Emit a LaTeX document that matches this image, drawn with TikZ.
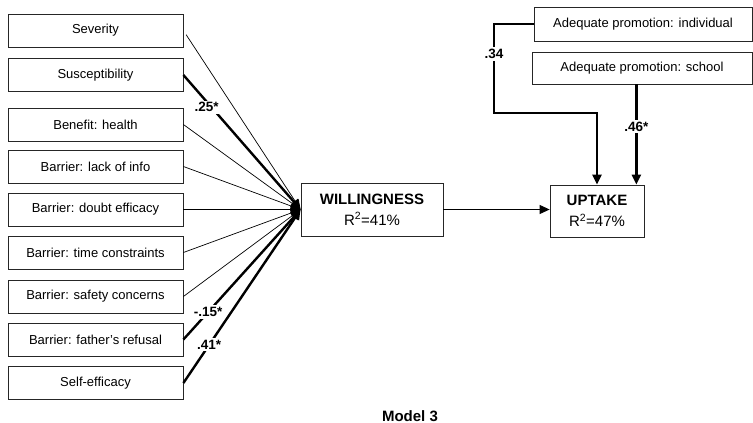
\documentclass[tikz,border=0pt]{standalone}
\usepackage{fontspec}
\setmainfont{Liberation Sans}
\usetikzlibrary{arrows.meta,calc}
\begin{document}
\begin{tikzpicture}[x=1pt,y=-1pt,
 box/.style={draw=black!85, line width=0.8pt, minimum width=175pt, minimum height=33pt, inner sep=0pt, font=\fontsize{13}{15}\selectfont},
 bigbox/.style={draw=black!85, line width=0.8pt, inner sep=0pt, align=center, font=\fontsize{15}{17}\selectfont},
 thinarr/.style={line width=0.7pt, -{Triangle[length=10pt,width=8pt]}},
 thickarr/.style={line width=2.4pt, -{Triangle[length=10pt,width=9pt]}},
 midarr/.style={line width=1pt, -{Triangle[length=10pt,width=9pt]}},
 lbl/.style={fill=white, inner sep=2pt, font=\bfseries\fontsize{13.5}{15}\selectfont}]
\useasboundingbox (0,0) rectangle (753,423);

% predictor boxes
\node[box] (sev)    at (95.5,30.5)  {Severity};
\node[box] (susc)   at (95.5,75)    {Susceptibility};
\node[box] (ben)    at (95.5,124.5) {Benefit: health};
\node[box] (lack)   at (95.5,166.5) {Barrier: lack of info};
\node[box] (doubt)  at (95.5,209.5) {Barrier: doubt efficacy};
\node[box] (time)   at (95.5,252.5) {Barrier: time constraints};
\node[box] (safety) at (95.5,296.5) {Barrier: safety concerns};
\node[box] (father) at (95.5,339.5) {Barrier: father's refusal};
\node[box] (self)   at (95.5,383)   {Self-efficacy};

% outcome boxes
\node[bigbox, minimum width=142pt, minimum height=53pt] (will) at (372,209.5)
  {{\bfseries WILLINGNESS}\\[4pt]R\textsuperscript{2}=41\%};
\node[bigbox, minimum width=94pt, minimum height=52pt] (up) at (597,211)
  {{\bfseries UPTAKE}\\[4pt]R\textsuperscript{2}=47\%};

% promotion boxes
\node[box, minimum width=218pt, minimum height=34pt] (indiv) at (643,24) {Adequate promotion: individual};
\node[box, minimum width=220pt, minimum height=32pt] (school) at (642,68) {Adequate promotion: school};

% predictors -> willingness
\draw[thinarr, shorten <=5pt] (sev.east) -- (will.west);
\draw[thickarr] (susc.east) -- node[lbl, pos=0.24, xshift=-5pt] {.25*} (will.west);
\draw[thinarr] (ben.east) -- (will.west);
\draw[thinarr] (lack.east) -- (will.west);
\draw[thinarr] (doubt.east) -- (will.west);
\draw[thinarr] (time.east) -- (will.west);
\draw[thinarr] (safety.east) -- (will.west);
\draw[thickarr] (father.east) -- node[lbl, pos=0.21] {-.15*} (will.west);
\draw[thickarr] (self.east) -- node[lbl, pos=0.22] {.41*} (will.west);

% willingness -> uptake
\draw[midarr] (will.east) -- (will.east -| up.west);

% promotion -> uptake
\coordinate (c1) at (494,24);
\coordinate (c2) at (494,113);
\draw[thickarr] (indiv.west) -- (c1) -- node[lbl, pos=0.34] {.34} (c2) -| (up.north);
\coordinate (c3) at ([xshift=-8pt]up.north east);
\draw[thickarr] (school.south -| c3) -- node[lbl, pos=0.42] {.46*} (c3);

% caption
\node[font=\bfseries\fontsize{15}{17}\selectfont] (cap) at (410,416) {Model 3};
\end{tikzpicture}
\end{document}
